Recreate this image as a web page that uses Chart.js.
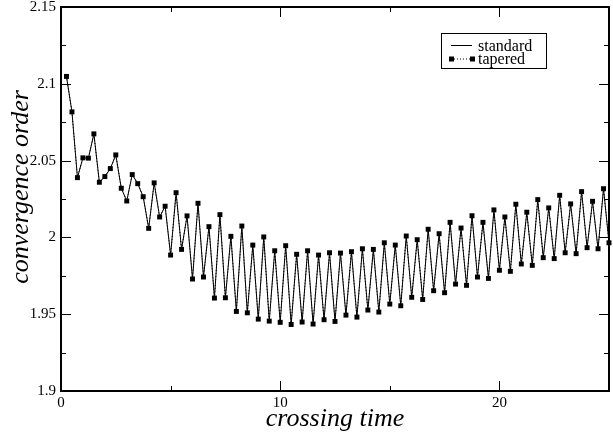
<!DOCTYPE html>
<html>
<head>
<meta charset="utf-8">
<script src="https://cdn.jsdelivr.net/npm/chart.js@4.4.0/dist/chart.umd.min.js"></script>
<style>
    html, body { margin: 0; padding: 0; background: #fff; }
    #myChart { display: block; }
</style>
</head>
<body>
<canvas id="myChart" width="613" height="436"></canvas>
<script>
// crossing times of the samples
const crossingTimes = [
    0.25, 0.5, 0.75, 1, 1.25, 1.5, 1.75, 2, 2.25, 2.5,
    2.75, 3, 3.25, 3.5, 3.75, 4, 4.25, 4.5, 4.75, 5,
    5.25, 5.5, 5.75, 6, 6.25, 6.5, 6.75, 7, 7.25, 7.5,
    7.75, 8, 8.25, 8.5, 8.75, 9, 9.25, 9.5, 9.75, 10,
    10.25, 10.5, 10.75, 11, 11.25, 11.5, 11.75, 12, 12.25, 12.5,
    12.75, 13, 13.25, 13.5, 13.75, 14, 14.25, 14.5, 14.75, 15,
    15.25, 15.5, 15.75, 16, 16.25, 16.5, 16.75, 17, 17.25, 17.5,
    17.75, 18, 18.25, 18.5, 18.75, 19, 19.25, 19.5, 19.75, 20,
    20.25, 20.5, 20.75, 21, 21.25, 21.5, 21.75, 22, 22.25, 22.5,
    22.75, 23, 23.25, 23.5, 23.75, 24, 24.25, 24.5, 24.75, 25
];

// convergence order, standard run
const standardOrder = [
    2.1048, 2.0817, 2.0389, 2.0518, 2.0516, 2.0674, 2.0359, 2.0396, 2.0448, 2.0537,
    2.0320, 2.0237, 2.0409, 2.0350, 2.0265, 2.0059, 2.0355, 2.0133, 2.0203, 1.9885,
    2.0291, 1.9922, 2.0140, 1.9729, 2.0222, 1.9742, 2.0070, 1.9605, 2.0148, 1.9607,
    2.0007, 1.9518, 2.0074, 1.9509, 1.9950, 1.9468, 2.0003, 1.9455, 1.9913, 1.9447,
    1.9946, 1.9433, 1.9890, 1.9449, 1.9913, 1.9436, 1.9885, 1.9464, 1.9900, 1.9453,
    1.9898, 1.9494, 1.9907, 1.9481, 1.9926, 1.9527, 1.9922, 1.9514, 1.9965, 1.9566,
    1.9950, 1.9555, 2.0009, 1.9610, 1.9985, 1.9596, 2.0053, 1.9653, 2.0024, 1.9640,
    2.0098, 1.9696, 2.0061, 1.9688, 2.0141, 1.9742, 2.0098, 1.9733, 2.0179, 1.9786,
    2.0133, 1.9779, 2.0216, 1.9827, 2.0164, 1.9818, 2.0246, 1.9868, 2.0192, 1.9862,
    2.0274, 1.9900, 2.0218, 1.9894, 2.0298, 1.9933, 2.0235, 1.9926, 2.0317, 1.9965
];

// tapered run lies on top of the standard one at this scale
const taperedOrder = standardOrder.slice();

const xTickLabels = [0, 10, 20];
const yTickLabels = [1.9, 1.95, 2, 2.05, 2.1, 2.15];
const yTitle = 'convergence order';

const serif = "'Liberation Serif', 'Times New Roman', serif";

function toPoints(xs, ys) {
    return xs.map((x, i) => ({ x: x, y: ys[i] }));
}

// frame with ticks pointing inwards on all four sides
const innerTicks = {
    id: 'innerTicks',
    afterDraw(chart) {
        const c = chart.ctx;
        const a = chart.chartArea;
        const xs = chart.scales.x;
        const ys = chart.scales.y;
        c.save();
        c.strokeStyle = '#000';
        c.lineWidth = 1;
        c.beginPath();
        for (let v = 0; v <= 25.001; v += 5) {
            const len = Math.abs(v % 10) < 1e-6 ? 10 : 5;
            const px = Math.round(xs.getPixelForValue(v)) + 0.5;
            c.moveTo(px, a.bottom); c.lineTo(px, a.bottom - len);
            c.moveTo(px, a.top); c.lineTo(px, a.top + len);
        }
        for (let k = 0; k <= 10; k++) {
            const v = 1.9 + k * 0.025;
            const len = k % 2 === 0 ? 10 : 5;
            const py = Math.round(ys.getPixelForValue(v)) + 0.5;
            c.moveTo(a.left, py); c.lineTo(a.left + len, py);
            c.moveTo(a.right, py); c.lineTo(a.right - len, py);
        }
        c.stroke();
        c.lineWidth = 2;
        c.strokeRect(a.left, a.top, a.right - a.left, a.bottom - a.top);

        // y title sits a little above the middle of the axis, as in the original
        c.translate(21, (a.top + a.bottom) / 2 - 12);
        c.rotate(-Math.PI / 2);
        c.font = 'italic 26px ' + serif;
        c.fillStyle = '#000';
        c.textAlign = 'center';
        c.textBaseline = 'middle';
        c.fillText(yTitle, 0, 0);
        c.restore();
    }
};

// boxed legend inside the plot, upper right
const boxLegend = {
    id: 'boxLegend',
    afterDraw(chart) {
        const c = chart.ctx;
        const a = chart.chartArea;
        const x0 = a.right - 168;
        const y0 = a.top + 26;
        c.save();
        c.strokeStyle = '#000';
        c.lineWidth = 1;
        c.strokeRect(x0 + 0.5, y0 + 0.5, 105, 35);
        c.font = '16px ' + serif;
        c.fillStyle = '#000';
        c.textBaseline = 'middle';
        chart.data.datasets.forEach((ds, i) => {
            const y = y0 + 12.5 + i * 13.5;
            c.beginPath();
            c.setLineDash(ds.borderDash || []);
            c.moveTo(x0 + 10, y);
            c.lineTo(x0 + 31, y);
            c.stroke();
            c.setLineDash([]);
            if (ds.pointRadius > 0) {
                c.fillRect(x0 + 8, y - 2.5, 5, 5);
                c.fillRect(x0 + 29, y - 2.5, 5, 5);
            }
            c.fillText(ds.label, x0 + 37, y + 1);
        });
        c.restore();
    }
};

const ctx = document.getElementById('myChart');

const myChart = new Chart(ctx, {
    type: 'line',
    data: {
        datasets: [{
            label: 'standard',
            data: toPoints(crossingTimes, standardOrder),
            borderColor: '#000',
            borderWidth: 1,
            pointRadius: 0,
            fill: false,
            tension: 0
        }, {
            label: 'tapered',
            data: toPoints(crossingTimes, taperedOrder),
            borderColor: '#000',
            borderWidth: 1,
            borderDash: [1, 2],
            pointStyle: 'rect',
            pointRadius: 3.5,
            pointBorderWidth: 0,
            pointBackgroundColor: '#000',
            fill: false,
            tension: 0,
            clip: false
        }]
    },
    options: {
        responsive: false,
        animation: false,
        layout: {
            padding: { top: 7, right: 1, left: 0, bottom: 0 }
        },
        scales: {
            x: {
                type: 'linear',
                min: 0,
                max: 25,
                grid: { display: false, drawTicks: false },
                border: { display: false },
                afterBuildTicks(scale) {
                    scale.ticks = xTickLabels.map(v => ({ value: v }));
                },
                afterFit(scale) {
                    scale.height = 45;
                    scale.paddingLeft = 0;
                    scale.paddingRight = 0;
                },
                ticks: {
                    autoSkip: false,
                    maxRotation: 0,
                    padding: 5,
                    color: '#000',
                    font: { family: serif, size: 15, lineHeight: 1 }
                },
                title: {
                    display: true,
                    text: 'crossing time',
                    color: '#000',
                    padding: { top: 0, bottom: 1 },
                    font: { family: serif, size: 26, style: 'italic', lineHeight: 1.2 }
                }
            },
            y: {
                type: 'linear',
                min: 1.9,
                max: 2.15,
                grid: { display: false, drawTicks: false },
                border: { display: false },
                afterBuildTicks(scale) {
                    scale.ticks = yTickLabels.map(v => ({ value: v }));
                },
                afterFit(scale) {
                    scale.width = 61;
                    scale.paddingTop = 0;
                    scale.paddingBottom = 0;
                },
                ticks: {
                    autoSkip: false,
                    padding: 5,
                    color: '#000',
                    font: { family: serif, size: 15, lineHeight: 1 },
                    callback: v => String(+v.toFixed(3))
                }
            }
        },
        plugins: {
            legend: { display: false },
            tooltip: { enabled: false }
        }
    },
    plugins: [innerTicks, boxLegend]
});
</script>
</body>
</html>
